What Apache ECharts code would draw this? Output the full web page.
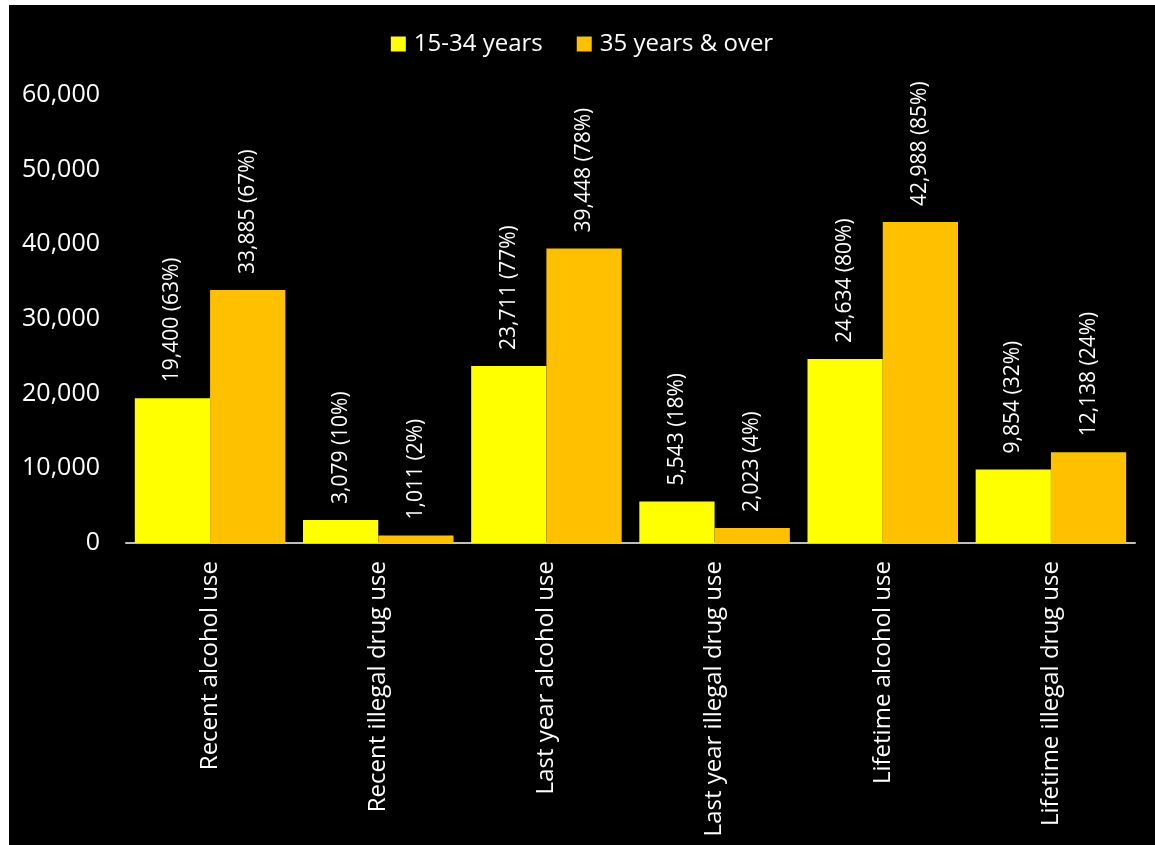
<!DOCTYPE html>
<html><head><meta charset="utf-8">
<script src="https://cdn.jsdelivr.net/npm/echarts@6/dist/echarts.min.js"></script>
<style>
html,body{margin:0;padding:0;background:#fff;width:1155px;height:845px;overflow:hidden}
#c{position:absolute;left:9px;top:5px;width:1146px;height:840px;background:#000}
</style></head><body>
<div id="c"></div>
<script>
const categories = ["Recent alcohol use","Recent illegal drug use","Last year alcohol use","Last year illegal drug use","Lifetime alcohol use","Lifetime illegal drug use"];
const young = [19400, 3079, 23711, 5543, 24634, 9854];
const youngPct = [63, 10, 77, 18, 80, 32];
const older = [33885, 1011, 39448, 2023, 42988, 12138];
const olderPct = [67, 2, 78, 4, 85, 24];
const seriesNames = ["15-34 years", "35 years & over"];
const yTicks = [0, 10000, 20000, 30000, 40000, 50000, 60000];

const font = "'Open Sans', Lato, sans-serif";
const fmt = v => v.toLocaleString('en-US');
const chart = echarts.init(document.getElementById('c'), null, {renderer:'canvas'});
function lbl(pcts){
  return {show:true, position:'top', rotate:90, align:'left', verticalAlign:'middle', distance:16,
    color:'#fff', fontFamily:font, fontSize:21,
    formatter:p=>fmt(p.value)+' ('+pcts[p.dataIndex]+'%)'};
}
chart.setOption({
  backgroundColor:'#000',
  animation:false,
  legend:{top:22, left:'center', itemWidth:15, itemHeight:15, itemGap:34,
    textStyle:{color:'#fff', fontFamily:font, fontSize:24, padding:[0,0,0,3]},
    data:seriesNames.map(n=>({name:n, icon:'rect'}))},
  grid:{left:117, right:20, top:90, bottom:302, containLabel:false},
  xAxis:{type:'category', data:categories,
    axisLine:{lineStyle:{color:'#bfbfbf', width:2}}, axisTick:{show:false},
    axisLabel:{rotate:90, color:'#fff', fontFamily:font, fontSize:24, margin:18, interval:0}},
  yAxis:{type:'value', min:yTicks[0], max:yTicks[yTicks.length-1], interval:10000,
    splitLine:{show:false}, axisLine:{show:false}, axisTick:{show:false},
    axisLabel:{color:'#fff', fontFamily:font, fontSize:25, margin:26, formatter:v=>fmt(v)}},
  series:[
    {name:seriesNames[0], type:'bar', data:young, itemStyle:{color:'#ffff00'}, barGap:'0%', barCategoryGap:'10.5%', label:lbl(youngPct)},
    {name:seriesNames[1], type:'bar', data:older, itemStyle:{color:'#ffc000'}, barGap:'0%', barCategoryGap:'10.5%', label:lbl(olderPct)}
  ]
});
</script></body></html>
